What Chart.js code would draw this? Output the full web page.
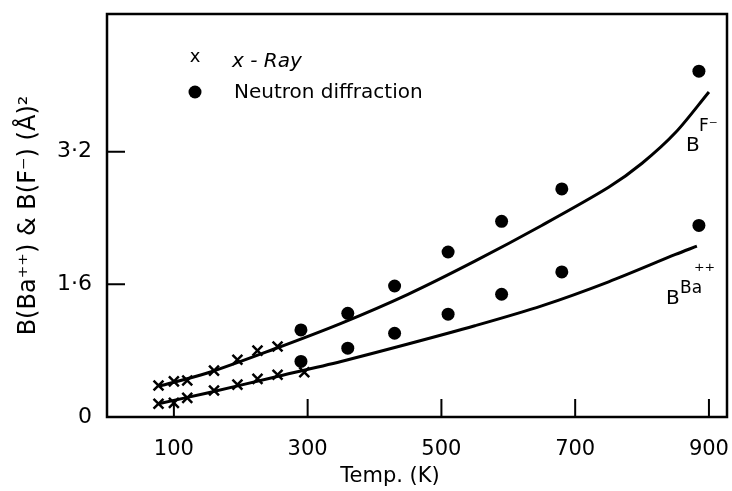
<!doctype html>
<html>
<head>
<title>Debye-Waller factors of BaF2</title>
<script src="https://cdn.jsdelivr.net/npm/chart.js@4.4.1/dist/chart.umd.min.js"></script>
<style>
    body { margin: 0; background: #fff; }
</style>
</head>

<body>
    <canvas id="chart" width="732" height="491"></canvas>

<script>
    // values
    const xrayTempF = [77, 100, 120, 160, 195, 225, 255];
    const xrayBF = [0.38, 0.43, 0.44, 0.56, 0.69, 0.80, 0.85];
    const xrayTempBa = [77, 100, 120, 160, 195, 225, 255, 295];
    const xrayBBa = [0.16, 0.17, 0.23, 0.32, 0.39, 0.46, 0.51, 0.54];

    const neutronTemp = [290, 360, 430, 510, 590, 680, 885];
    const neutronBF = [1.05, 1.25, 1.58, 1.99, 2.36, 2.75, 4.17];
    const neutronBBa = [0.67, 0.83, 1.01, 1.24, 1.48, 1.75, 2.31];

    // calculated curves (traced)
    const curveTempF = [77, 150, 250, 350, 450, 550, 650, 750, 800, 850, 900];
    const curveBF = [0.37, 0.53, 0.82, 1.13, 1.48, 1.88, 2.31, 2.77, 3.06, 3.43, 3.92];
    const curveTempBa = [77, 150, 250, 350, 450, 550, 650, 750, 850, 882];
    const curveBBa = [0.16, 0.29, 0.48, 0.67, 0.88, 1.10, 1.34, 1.63, 1.96, 2.06];

    const xTicks = [100, 300, 500, 700, 900];
    const yTicks = [0, 1.6, 3.2];
    const yTickLabels = ['0', '1·6', '3·2'];

    const FONT = '"DejaVu Sans", sans-serif';

    function pts(xs, ys) {
        return xs.map((x, i) => ({x: x, y: ys[i]}));
    }

    // frame, inward ticks, legend and labels
    const decor = {
        id: 'decor',
        afterDraw(chart) {
            const ctx = chart.ctx;
            const a = chart.chartArea;
            const sx = chart.scales.x, sy = chart.scales.y;
            ctx.save();
            ctx.strokeStyle = '#000';
            ctx.lineWidth = 2.5;
            ctx.strokeRect(a.left, a.top, a.right - a.left, a.bottom - a.top);

            ctx.lineWidth = 2;
            ctx.beginPath();
            xTicks.forEach(t => {
                const px = sx.getPixelForValue(t);
                ctx.moveTo(px, a.bottom);
                ctx.lineTo(px, a.bottom - 18);
            });
            yTicks.slice(1).forEach(t => {
                const py = sy.getPixelForValue(t);
                ctx.moveTo(a.left, py);
                ctx.lineTo(a.left + 18, py);
            });
            ctx.stroke();

            ctx.fillStyle = '#000';
            ctx.textBaseline = 'middle';
            // legend
            ctx.font = '18px ' + FONT;
            ctx.textAlign = 'center';
            ctx.fillText('x', 195, 57);
            ctx.beginPath();
            ctx.arc(195, 92, 6.5, 0, Math.PI * 2);
            ctx.fill();
            ctx.textAlign = 'left';
            ctx.font = 'italic 20px ' + FONT;
            ctx.fillText('x - Ray', 232, 62);
            ctx.font = '20px ' + FONT;
            ctx.fillText('Neutron diffraction', 234, 93);

            // curve labels
            ctx.font = '20px ' + FONT;
            ctx.fillText('B', 686, 146);
            ctx.font = '17px ' + FONT;
            ctx.fillText('F⁻', 699, 127);
            ctx.font = '20px ' + FONT;
            ctx.fillText('B', 666, 299);
            ctx.font = '17px ' + FONT;
            ctx.fillText('Ba', 680, 289);
            ctx.font = '20px ' + FONT;
            ctx.fillText('⁺⁺', 694, 273);

            // x axis title
            ctx.font = '21px ' + FONT;
            ctx.textAlign = 'center';
            ctx.fillText('Temp. (K)', 390, 477);
            ctx.restore();
        }
    };

    const ctx = document.getElementById('chart');

    const curveStyle = {
        showLine: true,
        borderColor: '#000',
        borderWidth: 3,
        pointRadius: 0,
        tension: 0.3
    };

    const myChart = new Chart(ctx, {
        type: 'scatter',
        data: {
            datasets: [
                Object.assign({label: 'B(F-) calc', data: pts(curveTempF, curveBF)}, curveStyle),
                Object.assign({label: 'B(Ba++) calc', data: pts(curveTempBa, curveBBa)}, curveStyle),
            {
                label: 'x-Ray F',
                data: pts(xrayTempF, xrayBF),
                pointStyle: 'crossRot',
                pointRadius: 7,
                borderColor: '#000',
                borderWidth: 2.5
            }, {
                label: 'x-Ray Ba',
                data: pts(xrayTempBa, xrayBBa),
                pointStyle: 'crossRot',
                pointRadius: 7,
                borderColor: '#000',
                borderWidth: 2.5
            }, {
                label: 'Neutron F',
                data: pts(neutronTemp, neutronBF),
                pointRadius: 6.5,
                backgroundColor: '#000',
                borderColor: '#000',
                borderWidth: 0
            }, {
                label: 'Neutron Ba',
                data: pts(neutronTemp, neutronBBa),
                pointRadius: 6.5,
                backgroundColor: '#000',
                borderColor: '#000',
                borderWidth: 0
            }]
        },
        options: {
            responsive: false,
            animation: false,
            events: [],
            layout: {
                autoPadding: false,
                padding: {top: 14, right: 5, left: 0, bottom: 0}
            },
            plugins: {
                legend: {display: false},
                tooltip: {enabled: false}
            },
            scales: {
                x: {
                    type: 'linear',
                    min: 0,
                    max: 927,
                    afterFit: s => {
                        s.height = 74;
                        s.paddingLeft = 0; s.paddingRight = 0;
                    },
                    afterBuildTicks: s => { s.ticks = xTicks.map(v => ({value: v})); },
                    grid: {display: false},
                    border: {display: false},
                    ticks: {
                        color: '#000',
                        font: {family: FONT, size: 21},
                        padding: 12,
                        maxRotation: 0,
                        autoSkip: false
                    }
                },
                y: {
                    min: 0,
                    max: 4.86,
                    afterFit: s => {
                        s.width = 107;
                        s.paddingTop = 0; s.paddingBottom = 0;
                    },
                    afterBuildTicks: s => { s.ticks = yTicks.map(v => ({value: v})); },
                    grid: {display: false},
                    border: {display: false},
                    ticks: {
                        color: '#000',
                        font: {family: FONT, size: 22},
                        padding: 7,
                        callback: (v) => yTickLabels[yTicks.indexOf(v)]
                    },
                    title: {
                        display: true,
                        text: 'B(Ba⁺⁺) & B(F⁻) (Å)²',
                        color: '#000',
                        font: {family: FONT, size: 24},
                        padding: {top: 14, bottom: 0}
                    }
                }
            }
        },
        plugins: [decor]
    });
</script>

</body>
</html>
